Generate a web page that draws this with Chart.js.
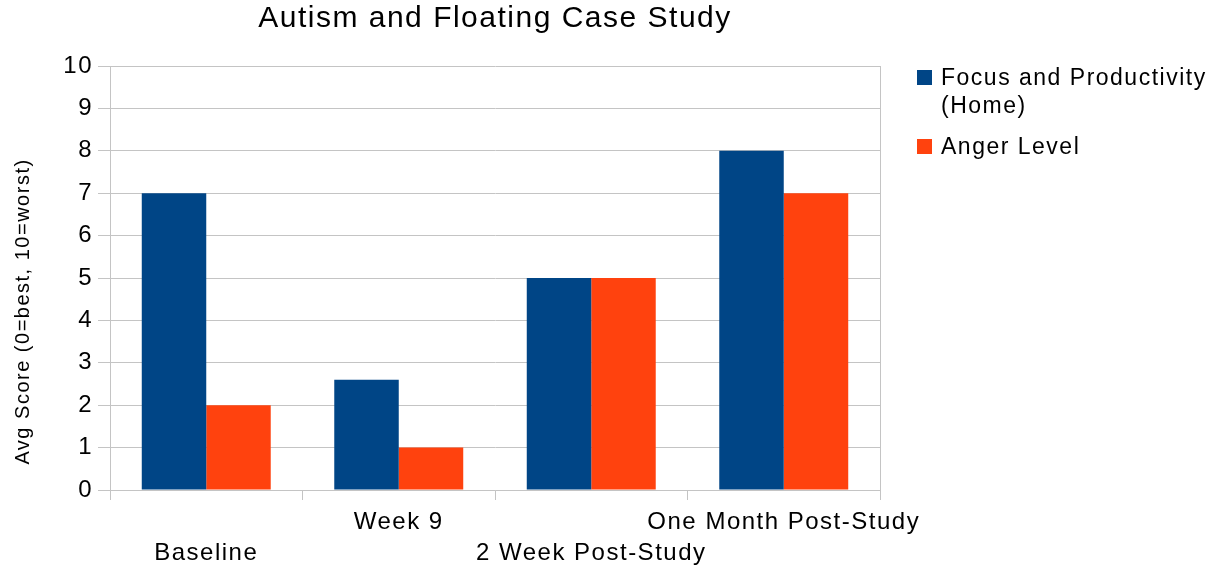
<!DOCTYPE html>
<html>
<head>
<meta charset="utf-8">
<title>Autism and Floating Case Study</title>
<script src="https://cdn.jsdelivr.net/npm/chart.js@4.4.1/dist/chart.umd.min.js"></script>
<style>
  html, body { margin: 0; padding: 0; background: #fff; }
  #wrap { position: relative; width: 1220px; height: 569px; }
  #chart { position: absolute; left: 0; top: 0; }
  #legend {
    position: absolute; left: 917px; top: 63px; width: 300px;
    font-family: "Liberation Sans", Arial, sans-serif; font-size: 23px;
    line-height: 28px; letter-spacing: 1.5px; color: #000;
  }
  .item { display: flex; align-items: flex-start; margin-bottom: 13px; }
  .swatch { width: 15px; height: 15px; margin-top: 7px; margin-right: 9px; flex: none; }
  .label { max-width: 280px; }
</style>
</head>
<body>
<div id="wrap">
  <canvas id="chart" width="1220" height="569"></canvas>
  <div id="legend"></div>
</div>
<script>
// Categories along the x axis
const categories = ['Baseline', 'Week 9', '2 Week Post-Study', 'One Month Post-Study'];
// Average scores per period (0 = best, 10 = worst)
const focusScores = [7, 2.6, 5, 8];
const angerScores = [2, 1, 5, 7];
const seriesNames = ['Focus and Productivity (Home)', 'Anger Level'];
const seriesColors = ['#004586', '#ff420e'];
// Y axis range
const yMin = 0;
const yMax = 10;
const yStep = 1;
const yTitle = 'Avg Score (0=best, 10=worst)';
const chartTitle = 'Autism and Floating Case Study';

const FONT = '"Liberation Sans", Arial, sans-serif';
const GRID = '#c4c4c4';
const SPACING = '1.5px';

Chart.defaults.color = '#000';
Chart.defaults.font.family = FONT;

// Widened letter spacing for all canvas text
const letterSpacing = {
  id: 'letterSpacing',
  beforeUpdate(chart) { chart.ctx.letterSpacing = SPACING; },
  beforeRender(chart) { chart.ctx.letterSpacing = SPACING; }
};

// Rotated y-axis title, centred over the axis and its labels
const yAxisTitle = {
  id: 'yAxisTitle',
  afterDraw(chart) {
    const ctx = chart.ctx;
    const area = chart.chartArea;
    ctx.save();
    ctx.letterSpacing = SPACING;
    ctx.font = '20px ' + FONT;
    ctx.fillStyle = '#000';
    ctx.textAlign = 'center';
    ctx.textBaseline = 'middle';
    ctx.translate(23, (area.top + chart.height - 12) / 2);
    ctx.rotate(-Math.PI / 2);
    ctx.fillText(yTitle, 0, 0);
    ctx.restore();
  }
};

const chart = new Chart(document.getElementById('chart'), {
  type: 'bar',
  data: {
    labels: categories,
    datasets: [
      { label: seriesNames[0], data: focusScores, backgroundColor: seriesColors[0] },
      { label: seriesNames[1], data: angerScores, backgroundColor: seriesColors[1] }
    ]
  },
  options: {
    responsive: false,
    animation: false,
    categoryPercentage: 0.67,
    barPercentage: 1.0,
    layout: { padding: { left: 0, right: 340, top: 0, bottom: 0 } },
    plugins: {
      legend: { display: false },
      tooltip: { enabled: false },
      title: {
        display: true,
        text: chartTitle,
        fullSize: false,
        color: '#000',
        font: { size: 30, weight: 'normal', family: FONT, lineHeight: 1.2 },
        padding: { top: 1, bottom: 29 }
      }
    },
    scales: {
      x: {
        offset: true,
        afterFit(scale) { scale.height = 79; },
        grid: {
          offset: true,
          drawOnChartArea: true,
          color: (ctx) => (ctx.type === 'scale' || ctx.index === 0) ? GRID : 'rgba(0,0,0,0)',
          tickColor: GRID,
          tickLength: 10,
          lineWidth: 1
        },
        border: { color: GRID, width: 1 },
        ticks: {
          autoSkip: false,
          maxRotation: 0,
          minRotation: 0,
          padding: 7,
          color: '#000',
          font: { size: 24, family: FONT, lineHeight: 1.3 },
          callback(value, index) {
            const name = this.getLabelForValue(value);
            return index % 2 === 0 ? ['', name] : [name];
          }
        }
      },
      y: {
        min: yMin,
        max: yMax,
        afterFit(scale) { scale.width = 110; },
        grid: { color: GRID, tickColor: GRID, tickLength: 12, lineWidth: 1 },
        border: { color: GRID, width: 1 },
        ticks: {
          stepSize: yStep,
          padding: 5,
          color: '#000',
          font: { size: 24, family: FONT }
        }
      }
    }
  },
  plugins: [letterSpacing, yAxisTitle]
});

// Legend built from the chart's datasets
const legend = document.getElementById('legend');
chart.data.datasets.forEach((ds) => {
  const item = document.createElement('div');
  item.className = 'item';
  const sw = document.createElement('span');
  sw.className = 'swatch';
  sw.style.background = ds.backgroundColor;
  const lb = document.createElement('span');
  lb.className = 'label';
  lb.textContent = ds.label;
  item.appendChild(sw);
  item.appendChild(lb);
  legend.appendChild(item);
});
</script>
</body>
</html>
